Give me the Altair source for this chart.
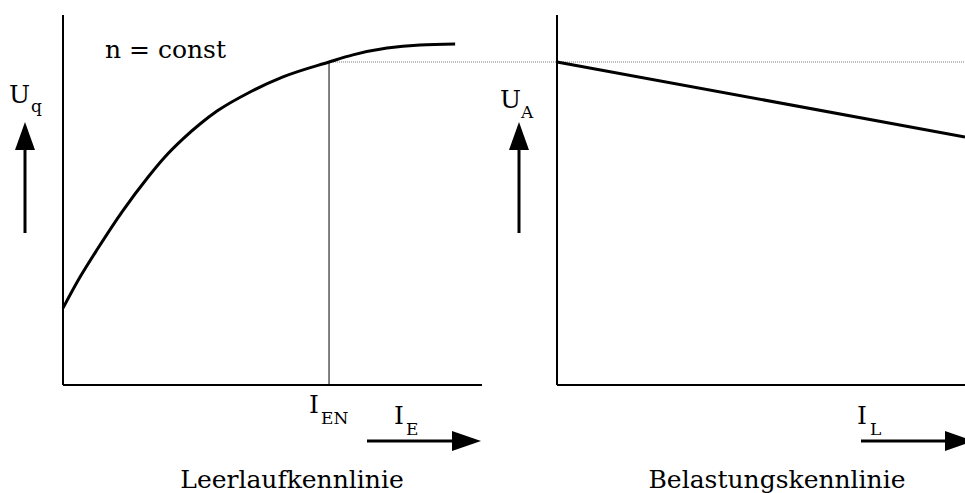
import altair as alt
import pandas as pd

# Leerlaufkennlinie: Quellenspannung über Erregerstrom (bezogen auf Nennwerte)
ie_pu = [0.0, 0.064, 0.132, 0.222, 0.320, 0.383, 0.451, 0.515, 0.579, 0.703, 0.827, 1.0, 1.090, 1.218, 1.342, 1.474]
uq_pu = [0.238, 0.334, 0.424, 0.536, 0.644, 0.706, 0.762, 0.808, 0.848, 0.907, 0.954, 1.0, 1.022, 1.043, 1.053, 1.056]

# Belastungskennlinie: Ankerspannung über Laststrom
il_pu = [0.0, 1.0]
ua_pu = [1.0, 0.768]

# Nennpunkt und Achsenlängen
ie_n = 1.0
u_n = 1.0
ie_axis_end = 1.575
il_axis_end = 1.0
u_axis_top = 1.1455

W, H = 965, 493
SERIF = "DejaVu Serif"
BIG, SMALL = 25, 17

y_scale = alt.Scale(domain=[0, u_axis_top], range=[385, 15])
x_left = alt.Scale(domain=[0, ie_axis_end], range=[63, 482])
x_right = alt.Scale(domain=[0, il_axis_end], range=[557, 965])

# ---------- linkes Diagramm ----------
curve_df = pd.DataFrame({"I": ie_pu, "U": uq_pu})
curve = alt.Chart(curve_df).mark_line(
    color="black", strokeWidth=3, interpolate="monotone"
).encode(
    x=alt.X("I:Q", scale=x_left, axis=None),
    y=alt.Y("U:Q", scale=y_scale, axis=None),
)

axes_left_df = pd.DataFrame({
    "x": [0.0, 0.0], "x2": [ie_axis_end, 0.0],
    "y": [0.0, 0.0], "y2": [0.0, u_axis_top],
})
axes_left = alt.Chart(axes_left_df).mark_rule(color="black", strokeWidth=2).encode(
    x=alt.X("x:Q", scale=x_left, axis=None), x2="x2:Q",
    y=alt.Y("y:Q", scale=y_scale, axis=None), y2="y2:Q",
)

nenn_df = pd.DataFrame({"I": [ie_n], "U0": [0.0], "U": [u_n]})
nenn_v = alt.Chart(nenn_df).mark_rule(color="black", strokeWidth=1).encode(
    x=alt.X("I:Q", scale=x_left, axis=None),
    y=alt.Y("U0:Q", scale=y_scale, axis=None), y2="U:Q",
)
nenn_h = alt.Chart(nenn_df).mark_rule(
    color="#777777", strokeWidth=1, strokeDash=[1, 1]
).encode(
    x=alt.X("I:Q", scale=x_left, axis=None), x2=alt.value(W),
    y=alt.Y("U:Q", scale=y_scale, axis=None),
)

left = alt.layer(axes_left, nenn_v, nenn_h, curve)

# ---------- rechtes Diagramm ----------
load_df = pd.DataFrame({"I": il_pu, "U": ua_pu})
load = alt.Chart(load_df).mark_line(color="black", strokeWidth=3).encode(
    x=alt.X("I:Q", scale=x_right, axis=None),
    y=alt.Y("U:Q", scale=y_scale, axis=None),
)
axes_right_df = pd.DataFrame({
    "x": [0.0, 0.0], "x2": [il_axis_end, 0.0],
    "y": [0.0, 0.0], "y2": [0.0, u_axis_top],
})
axes_right = alt.Chart(axes_right_df).mark_rule(color="black", strokeWidth=2).encode(
    x=alt.X("x:Q", scale=x_right, axis=None), x2="x2:Q",
    y=alt.Y("y:Q", scale=y_scale, axis=None), y2="y2:Q",
)
right = alt.layer(axes_right, load)

# ---------- Beschriftungen und Pfeile ----------
one = pd.DataFrame({"k": [0]})


def label(text, x, y, size=BIG, align="left"):
    return alt.Chart(one).mark_text(
        text=text, font=SERIF, fontSize=size, align=align, baseline="alphabetic", color="black"
    ).encode(x=alt.value(x), y=alt.value(y))


def shaft_v(x, y_top, y_bot):
    return alt.Chart(one).mark_rule(color="black", strokeWidth=3).encode(
        x=alt.value(x), y=alt.value(y_top), y2=alt.value(y_bot)
    )


def shaft_h(x_left_px, x_right_px, y):
    return alt.Chart(one).mark_rule(color="black", strokeWidth=3).encode(
        x=alt.value(x_left_px), x2=alt.value(x_right_px), y=alt.value(y)
    )


HEAD_UP = "M-0.714,1L0.714,1L0,-1Z"
HEAD_RIGHT = "M-1,-0.69L1,0L-1,0.69Z"


def head(x, y, shape, size):
    return alt.Chart(one).mark_point(
        shape=shape, filled=True, color="black", opacity=1, size=size, strokeWidth=0
    ).encode(x=alt.value(x), y=alt.value(y))


annotations = [
    label("n = const", 105, 58),
    label("U", 9, 103), label("q", 31, 112, size=SMALL),
    shaft_v(25, 148, 233), head(25, 136, HEAD_UP, 784),
    label("I", 309, 413), label("EN", 321, 424, size=SMALL),
    label("I", 394, 424), label("E", 406, 435, size=SMALL),
    shaft_h(367, 455, 441), head(466.5, 441, HEAD_RIGHT, 841),
    label("Leerlaufkennlinie", 292, 488, align="center"),
    label("U", 500, 108), label("A", 521, 118, size=SMALL),
    shaft_v(519, 148, 233), head(519, 136, HEAD_UP, 784),
    label("I", 857, 424), label("L", 870, 435, size=SMALL),
    shaft_h(861, 948, 441), head(959.5, 441, HEAD_RIGHT, 841),
    label("Belastungskennlinie", 777, 488, align="center"),
]

chart = alt.layer(left, right, *annotations).resolve_scale(
    x="independent"
).properties(
    width=W, height=H, padding=0, autosize=alt.AutoSizeParams(type="none"),
    background="white",
).configure_view(stroke=None)

chart.save("out.html", embed_options={"renderer": "svg", "actions": False})
